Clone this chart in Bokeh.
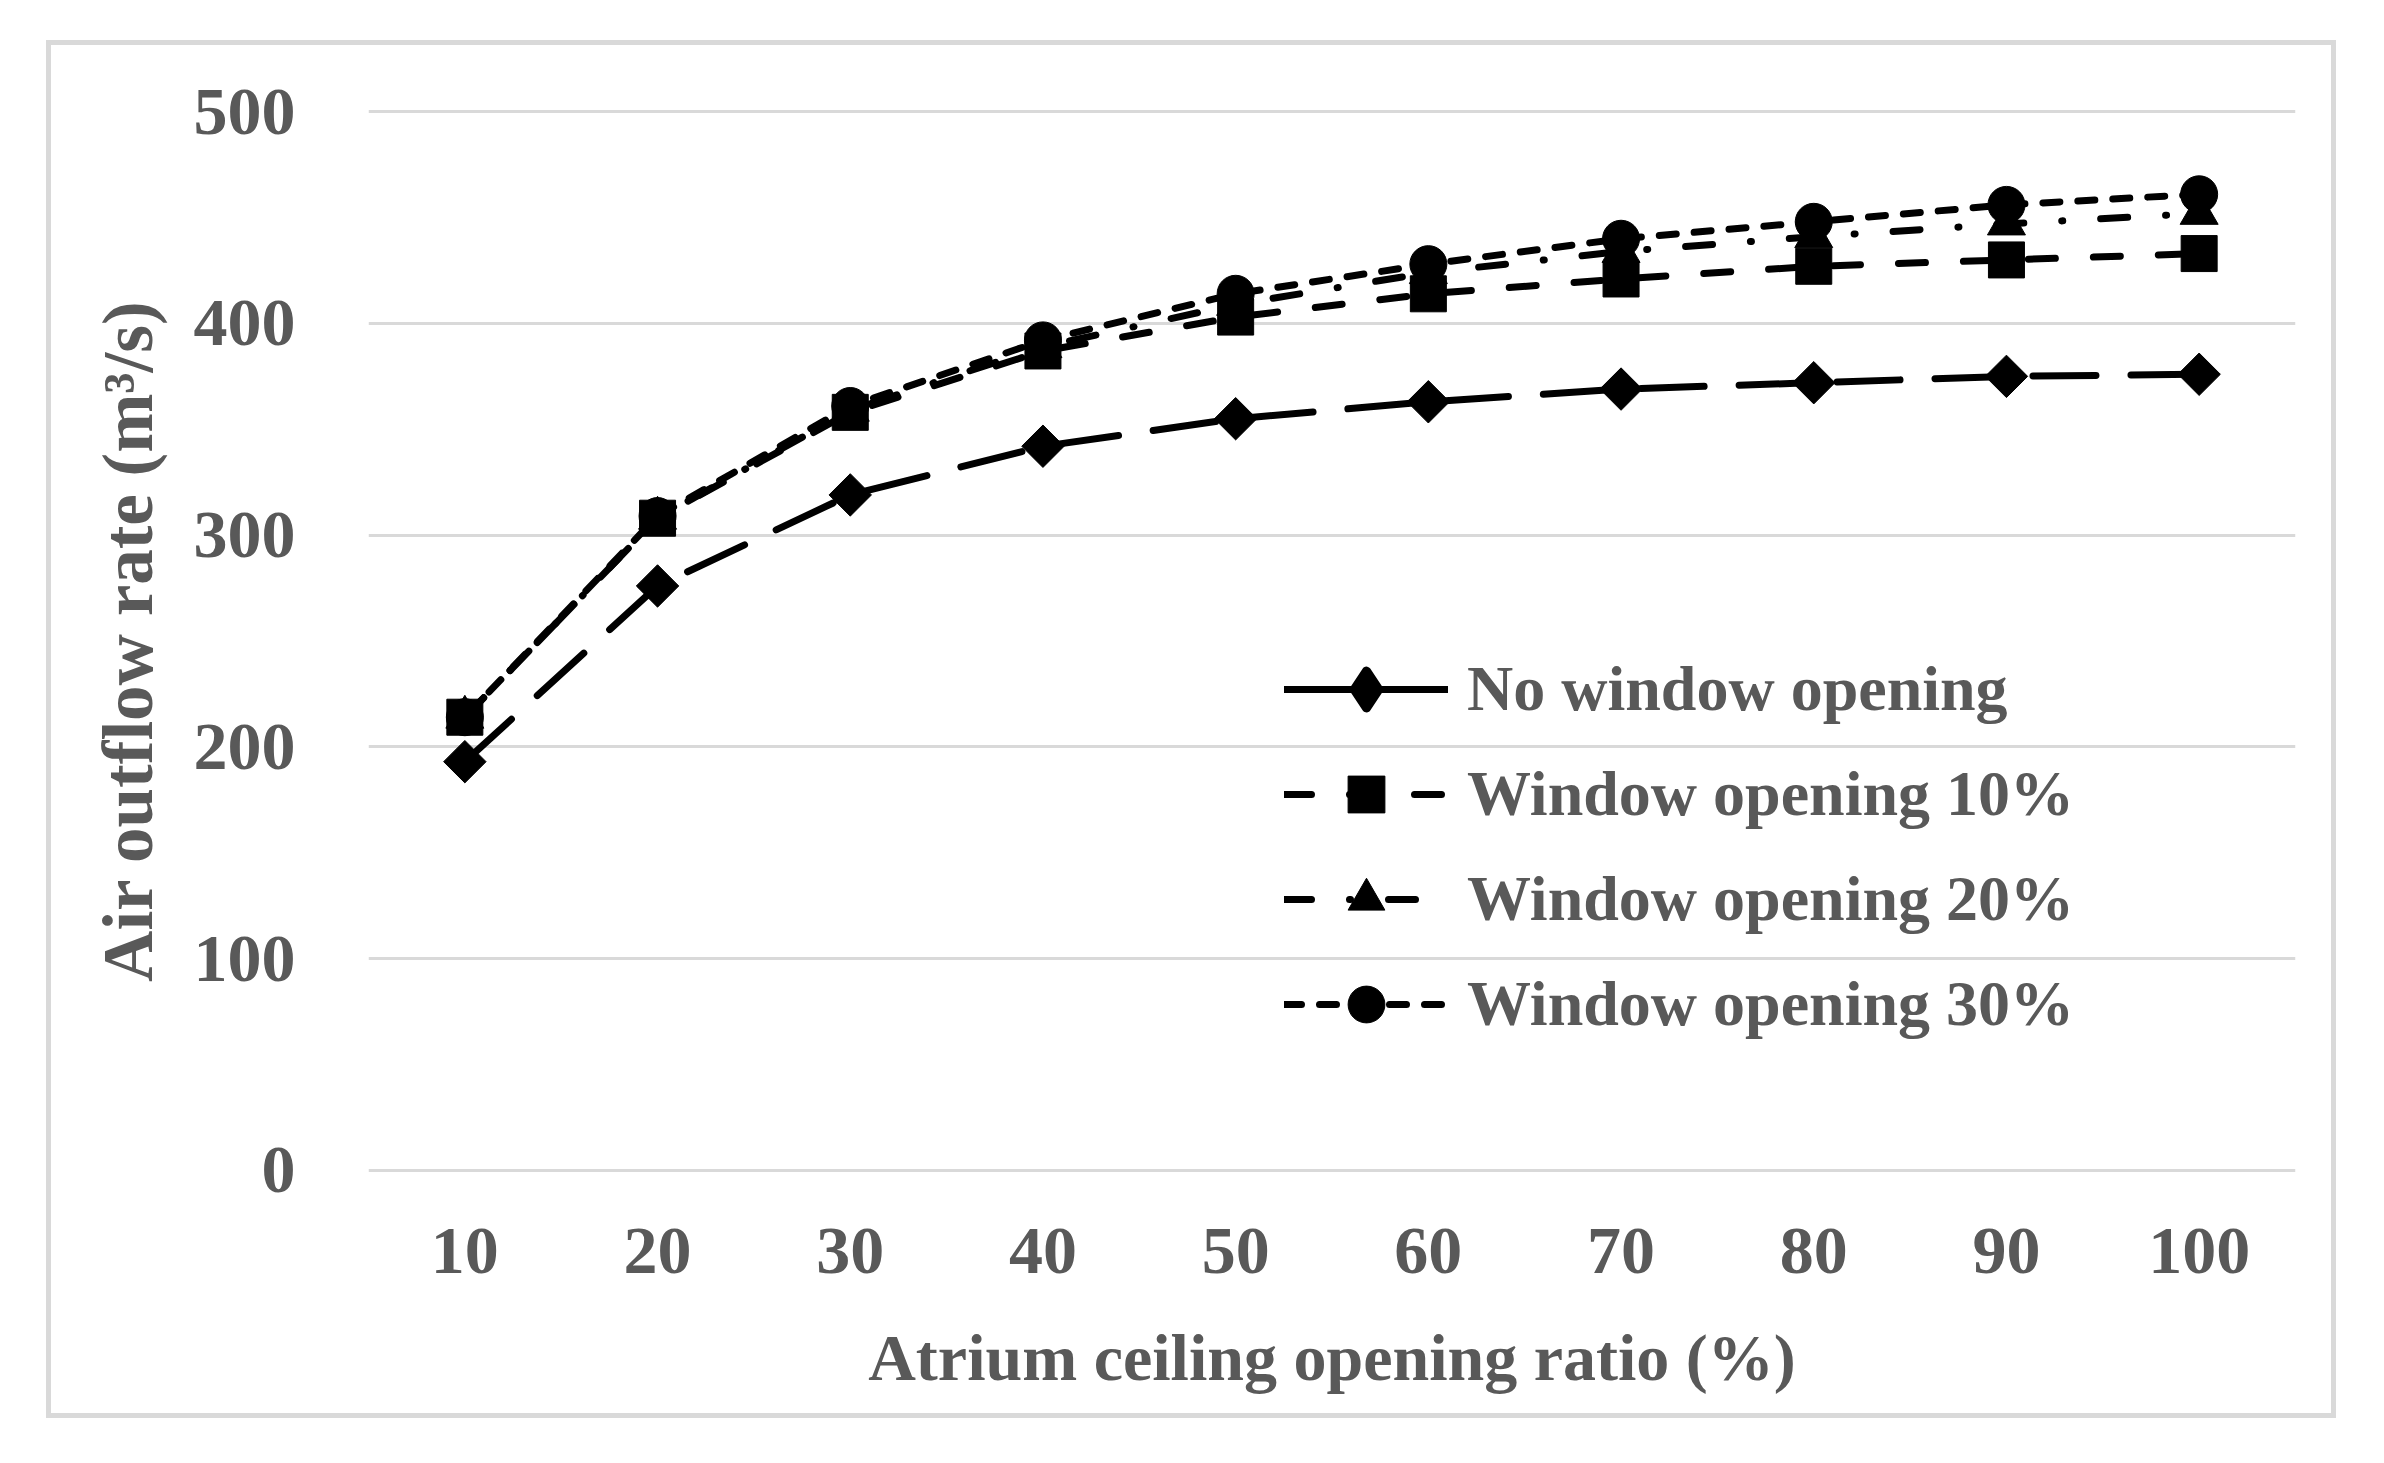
import math
from bokeh.plotting import figure
from bokeh.models import FactorRange, Range1d, Legend, LegendItem, FixedTicker
from bokeh.embed import file_html
from bokeh.resources import INLINE

# ---- data ----
ratios = ["10", "20", "30", "40", "50", "60", "70", "80", "90", "100"]
no_window = [193, 276, 319, 342, 355, 363, 369, 372, 375, 376]
window_10 = [214, 308, 358, 387, 403, 414, 421, 427, 430, 433]
window_20 = [214, 308, 359, 389, 409, 424, 434, 441, 447, 452]
window_30 = [214, 309, 361, 392, 414, 428, 440, 448, 456, 461]
series_names = ["No window opening", "Window opening 10%",
                "Window opening 20%", "Window opening 30%"]
y_ticks = [0, 100, 200, 300, 400, 500]
x_title = "Atrium ceiling opening ratio (%)"
y_title = "Air outflow rate (m³/s)"

FONT = "Liberation Serif"
TXT = "#595959"
GRID = "#d9d9d9"

p = figure(x_range=FactorRange(*ratios), y_range=Range1d(-2, 502),
           width=2290, height=1378, output_backend="svg", toolbar_location=None,
           min_border_left=317, min_border_right=46, min_border_top=62,
           min_border_bottom=249)
p.styles = {"margin-left": "46px", "margin-top": "40px",
            "border": "5px solid #d9d9d9"}
p.outline_line_color = None
p.background_fill_color = "white"

# axes
for ax in (p.xaxis, p.yaxis):
    ax.axis_line_color = None
    ax.major_tick_line_color = None
    ax.minor_tick_line_color = None
    ax.major_label_text_font = FONT
    ax.major_label_text_font_style = "bold"
    ax.major_label_text_font_size = "68px"
    ax.major_label_text_color = TXT
    ax.axis_label_text_font = FONT
    ax.axis_label_text_font_style = "bold"
    ax.axis_label_text_color = TXT

p.yaxis.ticker = FixedTicker(ticks=y_ticks)
p.yaxis.major_label_standoff = 67
p.yaxis.axis_label = y_title
p.yaxis.axis_label_text_font_size = "71px"
p.yaxis.axis_label_standoff = 24

p.xaxis.major_label_standoff = 48
p.xaxis.axis_label = x_title
p.xaxis.axis_label_text_font_size = "66px"
p.xaxis.axis_label_standoff = 45

p.xgrid.grid_line_color = None
p.ygrid.grid_line_color = GRID
p.ygrid.grid_line_width = 3

# series
series = [
    (no_window, "63 35", "square", 30, math.pi / 4),
    (window_10, "27 38", "square", 36, 0.0),
    (window_20, "27 38 1 38", "triangle", 38, 0.0),
    (window_30, "17 18", "circle", 37, 0.0),
]

hidden = [float("nan")] * len(ratios)

items = []
for i, (vals, dash, marker, size, ang) in enumerate(series):
    ln = p.line(ratios, vals, line_color="black", line_width=7,
                line_dash=dash, line_cap="round")
    mk = p.scatter(ratios, vals, marker=marker, size=size, angle=ang,
                   fill_color="black", line_color="black", line_width=1)
    if i == 0:
        # legend-only glyphs: solid line and diamond (as in the original key)
        leg_line = p.line(ratios, hidden, line_color="black", line_width=7,
                          line_cap="round")
        leg_mark = p.scatter(ratios, hidden, marker="diamond", size=46,
                             fill_color="black", line_color="black",
                             line_width=9, line_join="round")
        items.append(LegendItem(label=series_names[i], renderers=[leg_line, leg_mark]))
    else:
        items.append(LegendItem(label=series_names[i], renderers=[ln, mk]))

legend = Legend(items=items, location=(912, 120),
                glyph_width=164, glyph_height=92, label_height=92,
                label_standoff=19, spacing=13, padding=4, margin=0,
                label_text_font=FONT, label_text_font_style="bold",
                label_text_font_size="64px", label_text_color=TXT,
                background_fill_alpha=0, border_line_alpha=0)
p.add_layout(legend)

open("out.html", "w").write(file_html(p, INLINE))
